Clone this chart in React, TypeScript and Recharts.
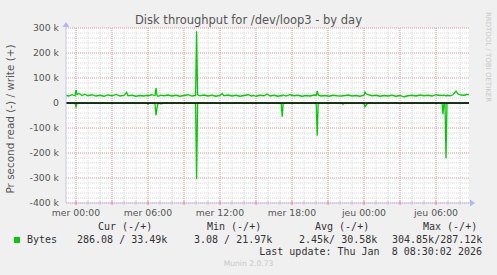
import { LineChart, Line, XAxis, YAxis, CartesianGrid, ReferenceLine, ReferenceDot } from "recharts";

// sample times in minutes relative to Wed 00:00 (5 min steps around spikes)
const sampleMinutes = [
  -50, -35, -20, -5, 0, 5, 15, 30, 45, 60,
  80, 100, 120, 140, 160, 180, 200, 220, 240, 253,
  260, 280, 300, 320, 340, 355, 360, 365, 380, 395,
  400, 405, 410, 425, 440, 460, 480, 500, 520, 540,
  560, 580, 598, 603, 608, 620, 640, 660, 680, 700,
  720, 730, 740, 760, 780, 800, 820, 840, 860, 878,
  883, 888, 900, 920, 940, 955, 970, 990, 1010, 1026,
  1031, 1036, 1050, 1070, 1090, 1110, 1130, 1150, 1170, 1190,
  1201, 1206, 1211, 1225, 1245, 1265, 1285, 1305, 1330, 1335,
  1340, 1360, 1380, 1400, 1420, 1440, 1445, 1450, 1460, 1480,
  1500, 1520, 1540, 1560, 1580, 1600, 1620, 1640, 1660, 1680,
  1700, 1720, 1740, 1760, 1780, 1800, 1820, 1830, 1835, 1840,
  1845, 1850, 1855, 1870, 1885, 1900, 1910, 1925, 1940, 1955,
  1965,
];

// bytes written per second, in k
const writeK = [
  30, 28, 33, 29, 52, 34, 38, 30, 35, 29,
  33, 28, 31, 27, 32, 29, 34, 28, 30, 43,
  29, 31, 27, 30, 28, 31, 29, 30, 33, 29,
  60, 30, 27, 31, 29, 32, 28, 31, 27, 30,
  33, 28, 30, 287.12, 33, 29, 32, 28, 31, 27,
  30, 38, 29, 32, 28, 31, 27, 30, 33, 28,
  29, 30, 27, 31, 29, 36, 28, 31, 27, 30,
  29, 32, 28, 33, 29, 31, 27, 30, 28, 32,
  30, 48, 31, 28, 30, 27, 31, 29, 28, 30,
  29, 32, 28, 30, 27, 31, 44, 38, 33, 29,
  31, 27, 30, 28, 31, 27, 30, 25, 29, 31,
  28, 32, 29, 31, 28, 33, 30, 31, 29, 32,
  30, 28, 31, 29, 33, 48, 36, 32, 31, 34,
  33.49,
];

// bytes read per second, in k (drawn below zero)
const readK = [
  0.5, 0.3, 0.5, 0.5, 15, 0.5, 0.4, 0.4, 0.3, 0.3,
  0.3, 0.3, 0.3, 0.3, 0.3, 0.3, 0.3, 0.3, 0.3, 0.3,
  0.3, 0.3, 0.3, 0.3, 0.3, 0.3, 5, 0.3, 0.3, 0.3,
  50, 20, 0.3, 3, 0.3, 0.3, 0.3, 0.3, 0.3, 0.3,
  0.3, 0.3, 0.3, 304.85, 0.3, 0.3, 0.3, 0.3, 0.3, 0.3,
  0.3, 0.3, 0.3, 0.3, 0.3, 0.3, 0.3, 0.3, 0.3, 0.3,
  3, 0.3, 0.3, 0.3, 0.3, 0.3, 0.3, 0.3, 0.3, 0.3,
  55, 0.3, 0.3, 0.3, 0.3, 0.3, 0.3, 0.3, 0.3, 0.3,
  0.3, 131, 0.3, 0.3, 0.3, 0.3, 0.3, 0.3, 0.3, 5,
  0.3, 0.3, 0.3, 0.3, 0.3, 0.3, 15, 8, 0.3, 0.3,
  0.3, 0.3, 0.3, 0.3, 0.3, 0.3, 0.3, 0.3, 0.3, 0.3,
  0.3, 0.3, 0.3, 0.3, 0.3, 0.3, 0.3, 0.3, 45, 0.3,
  0.3, 221, 0.3, 0.3, 0.3, 0.3, 0.3, 0.3, 0.3, 0.3,
  0.29,
];

const yLabelTicks = [300000, 200000, 100000, 0, -100000, -200000, -300000, -400000];
const yMinorValues = Array.from({ length: 36 }, (_, i) => -400000 + i * 20000);
const xHourTicks = Array.from({ length: 33 }, (_, i) => i);
const xMajorValues = xHourTicks.filter((h) => h % 3 === 0);
const xLabels: Record<number, string> = {
  0: "mer 00:00",
  6: "mer 06:00",
  12: "mer 12:00",
  18: "mer 18:00",
  24: "jeu 00:00",
  30: "jeu 06:00",
};

const X_DOMAIN: [number, number] = [-50 / 60, 32.75];
const Y_DOMAIN: [number, number] = [-400000, 300000];

const legendHeaders = [
  { text: "Cur (-/+)", x: 98 },
  { text: "Min (-/+)", x: 207 },
  { text: "Avg (-/+)", x: 315 },
  { text: "Max (-/+)", x: 423 },
];
const legendValues = [
  { text: "286.08 / 33.49k", x: 77 },
  { text: "3.08 / 21.97k", x: 194 },
  { text: "2.45k/ 30.58k", x: 299 },
  { text: "304.85k/287.12k", x: 392 },
];

const data = sampleMinutes.map((m, i) => ({
  t: m / 60,
  write: writeK[i] * 1000,
  read: -readK[i] * 1000,
}));

const GREEN = "#00CC00";
const AXIS = "#C8C8F0";
const ARROW = "#B0B8F8";
const SANS = "'DejaVu Sans', sans-serif";
const MONO = "'DejaVu Sans Mono', monospace";

const formatY = (v: number) => (v === 0 ? "0" : `${v / 1000} k`);

const YTick = ({ x, y, payload }: any) => (
  <text x={x} y={y} dy="0.35em" textAnchor="end" fontSize={9.3} fontFamily={SANS} fill="#555">
    {formatY(payload.value)}
  </text>
);

const XTick = ({ x, y, payload }: any) => {
  const h = payload.value;
  const major = h % 3 === 0;
  return (
    <g>
      <line x1={x} x2={x} y1={y - 2} y2={y + 2} stroke={major ? "#F08080" : "#C8C8C8"} strokeWidth={1} />
      {xLabels[h] && (
        <text x={x} y={y + 10} dy="0.35em" textAnchor="middle" fontSize={9.3} fontFamily={SANS} fill="#555">
          {xLabels[h]}
        </text>
      )}
    </g>
  );
};

const RightArrow = ({ cx, cy }: any) => (
  <g>
    <line x1={cx} x2={cx + 3} y1={cy} y2={cy} stroke={AXIS} />
    <path d={`M${cx + 1},${cy - 3.5} L${cx + 6},${cy} L${cx + 1},${cy + 3.5} Z`} fill={ARROW} />
  </g>
);

const UpArrow = ({ cx, cy }: any) => (
  <g>
    <line x1={cx} x2={cx} y1={cy} y2={cy - 3} stroke={AXIS} />
    <path d={`M${cx - 3.5},${cy - 1} L${cx},${cy - 6} L${cx + 3.5},${cy - 1} Z`} fill={ARROW} />
  </g>
);

const abs = (left: number, top: number): React.CSSProperties => ({
  position: "absolute",
  left,
  top,
  whiteSpace: "pre",
});

export default function App() {
  return (
    <div style={{ position: "absolute", left: 0, top: 0, width: 497, height: 275, background: "#F0F0F0", overflow: "hidden" }}>
      <div style={{ position: "absolute", left: 0, top: 12, width: 497, textAlign: "center", fontFamily: SANS, fontSize: 11.5, color: "#555", lineHeight: "16px" }}>
        Disk throughput for /dev/loop3 - by day
      </div>
      <div
        style={{
          position: "absolute",
          left: 10,
          top: 119,
          transform: "translate(-50%, -50%) rotate(-90deg)",
          fontFamily: SANS,
          fontSize: 10.4,
          color: "#555",
          whiteSpace: "nowrap",
        }}
      >
        Pr second read (-) / write (+)
      </div>
      <div
        style={{
          position: "absolute",
          left: 488,
          top: 57,
          transform: "translate(-50%, -50%) rotate(90deg)",
          fontFamily: SANS,
          fontSize: 7,
          color: "#C8C8C8",
          whiteSpace: "nowrap",
        }}
      >
        RRDTOOL / TOBI OETIKER
      </div>

      <LineChart width={497} height={275} data={data} margin={{ top: 28, right: 28, bottom: 42, left: 0 }}>
        <CartesianGrid
          fill="#FFFFFF"
          stroke="#D8D8D8"
          strokeDasharray="1 1"
          horizontalValues={yMinorValues}
          verticalValues={xHourTicks}
        />
        <CartesianGrid
          fill="none"
          stroke="#F2A8A8"
          strokeDasharray="1 1"
          horizontalValues={yLabelTicks}
          verticalValues={xMajorValues}
        />
        <XAxis
          type="number"
          dataKey="t"
          domain={X_DOMAIN}
          allowDataOverflow
          ticks={xHourTicks}
          interval={0}
          height={30}
          tickSize={0}
          tickMargin={0}
          tickLine={false}
          axisLine={{ stroke: AXIS }}
          tick={<XTick />}
        />
        <YAxis
          type="number"
          domain={Y_DOMAIN}
          allowDataOverflow
          ticks={yLabelTicks}
          interval={0}
          width={66}
          tickSize={0}
          tickMargin={7}
          tickLine={false}
          axisLine={{ stroke: AXIS }}
          tick={<YTick />}
        />
        <Line type="linear" dataKey="read" stroke={GREEN} strokeWidth={1.3} dot={false} isAnimationActive={false} />
        <Line type="linear" dataKey="write" stroke={GREEN} strokeWidth={1.3} dot={false} isAnimationActive={false} />
        <ReferenceLine y={0} stroke="#000000" strokeWidth={1.5} />
        <ReferenceDot x={X_DOMAIN[1]} y={Y_DOMAIN[0]} r={0} ifOverflow="visible" shape={<RightArrow />} />
        <ReferenceDot x={X_DOMAIN[0]} y={Y_DOMAIN[1]} r={0} ifOverflow="visible" shape={<UpArrow />} />
      </LineChart>

      <div style={{ position: "absolute", left: 0, top: 0, width: 497, height: 275, fontFamily: MONO, fontSize: 10, color: "#333", lineHeight: "12px" }}>
        {legendHeaders.map((h) => (
          <div key={h.text} style={abs(h.x, 221)}>{h.text}</div>
        ))}
        <div style={{ position: "absolute", left: 14, top: 237, width: 6, height: 6, background: GREEN }} />
        <div style={abs(27, 234)}>Bytes</div>
        {legendValues.map((v) => (
          <div key={v.text} style={abs(v.x, 234)}>{v.text}</div>
        ))}
        <div style={{ position: "absolute", top: 246, right: 15, whiteSpace: "pre" }}>Last update: Thu Jan  8 08:30:02 2026</div>
      </div>
      <div style={{ position: "absolute", left: 0, top: 259, width: 497, textAlign: "center", fontFamily: SANS, fontSize: 7.6, color: "#C8C8C8", lineHeight: "10px" }}>
        Munin 2.0.73
      </div>
    </div>
  );
}
